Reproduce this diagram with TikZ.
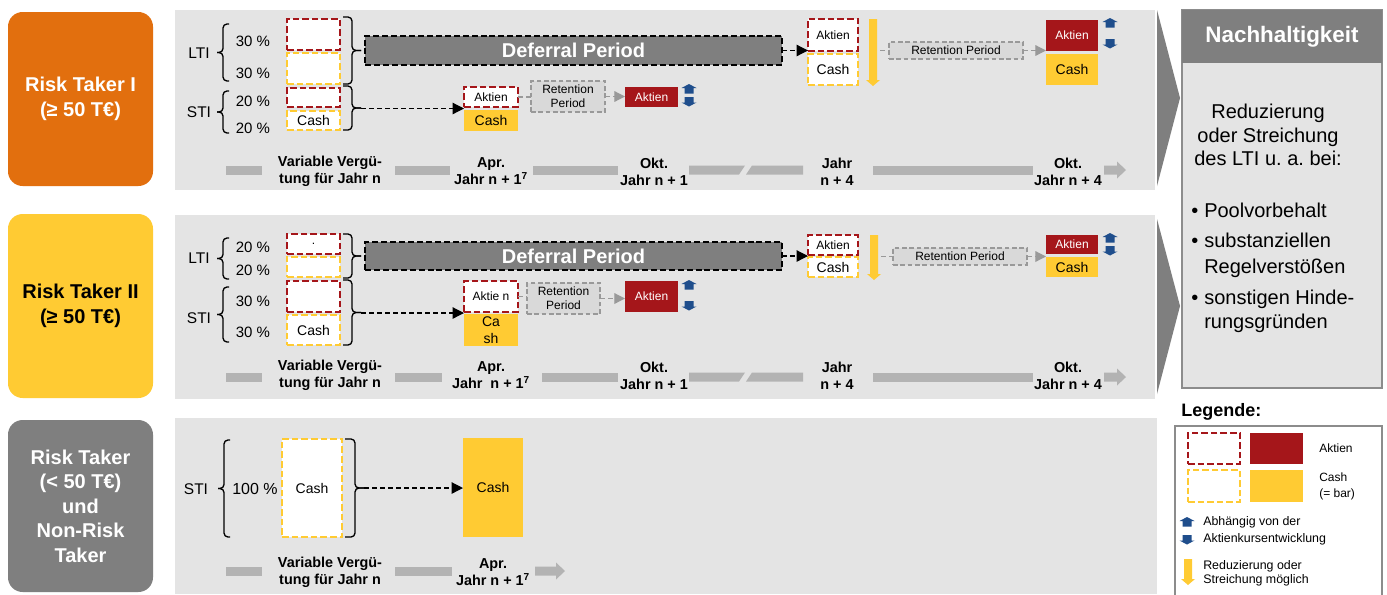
\documentclass[tikz,border=0pt]{standalone}
\usepackage{fontspec}
\setmainfont{Liberation Sans}
\usetikzlibrary{arrows.meta,calc}
\frenchspacing
\definecolor{rtorange}{HTML}{E26F0E}
\definecolor{rtyellow}{HTML}{FFCB33}
\definecolor{rtgray}{HTML}{7F7F7F}
\definecolor{panelbg}{HTML}{E4E4E4}
\definecolor{darkred}{HTML}{A5161A}
\definecolor{arrblue}{HTML}{1F4E8C}
\definecolor{tlgray}{HTML}{B3B3B3}
\definecolor{retfill}{HTML}{D9D9D9}
\definecolor{retline}{HTML}{999999}
\definecolor{boxline}{HTML}{8C8C8C}

\newcommand\pbox[7]{\node[#6, minimum width={(#4-#2)*0.75pt}, minimum height={(#5-#3)*0.75pt}] (#1) at ({(#2+#4)/2},{(#3+#5)/2}) {#7};}
\newcommand\fsz[2]{\fontsize{#1}{#2}\selectfont}
% brace: xr xm xl y1 y2
\newcommand\lbrc[5]{%
 \draw[brc] ({#1},{#4}) -- ({#2},{#4}) -- ({#2},{(#4+#5)/2}) -- ({#3},{(#4+#5)/2});
 \draw[brc] ({#3},{(#4+#5)/2}) -- ({#2},{(#4+#5)/2}) -- ({#2},{#5}) -- ({#1},{#5});}
\newcommand\bluup[2]{\fill[arrblue] ({#1},{#2}) -- ({#1+7.5},{#2+4}) -- ({#1+4.5},{#2+4}) -- ({#1+4.5},{#2+9.5}) -- ({#1-4.5},{#2+9.5}) -- ({#1-4.5},{#2+4}) -- ({#1-7.5},{#2+4}) -- cycle;}
\newcommand\bludn[2]{\fill[arrblue] ({#1-4.5},{#2}) -- ({#1+4.5},{#2}) -- ({#1+4.5},{#2+5.5}) -- ({#1+7.5},{#2+5.5}) -- ({#1},{#2+9.5}) -- ({#1-7.5},{#2+5.5}) -- ({#1-4.5},{#2+5.5}) -- cycle;}
\newcommand\yeldn[3]{\fill[rtyellow] ({#1-4},{#2}) -- ({#1+4},{#2}) -- ({#1+4},{#3-6}) -- ({#1+7},{#3-6}) -- ({#1},{#3}) -- ({#1-7},{#3-6}) -- ({#1-4},{#3-6}) -- cycle;}
\newcommand\tlbar[3]{\fill[tlgray] ({#1},{#3-4.5}) rectangle ({#2},{#3+4.5});}
\newcommand\tlarrow[3]{\fill[tlgray] ({#1},{#3-4.5}) -- ({#2-9},{#3-4.5}) -- ({#2-9},{#3-8.5}) -- ({#2},{#3}) -- ({#2-9},{#3+8.5}) -- ({#2-9},{#3+4.5}) -- ({#1},{#3+4.5}) -- cycle;}
\newcommand\tlbroken[1]{%
 \fill[tlgray] (689,{#1-4.5}) -- (745,{#1-4.5}) -- (739,{#1+4.5}) -- (689,{#1+4.5}) -- cycle;
 \fill[tlgray] (752,{#1-4.5}) -- (803,{#1-4.5}) -- (803,{#1+4.5}) -- (746,{#1+4.5}) -- cycle;}

\tikzset{
  bx/.style={inner sep=0pt, outer sep=0pt, align=center},
  rtlab/.style={bx, rounded corners=11pt, font=\fsz{15}{18.75}\bfseries},
  reddash/.style={bx, fill=white, draw=darkred, line width=1.75pt, dash pattern=on 5pt off 2.2pt},
  yeldash/.style={bx, fill=white, draw=rtyellow, line width=1.75pt, dash pattern=on 5pt off 2.2pt},
  redsolid/.style={bx, fill=darkred, text=white, font=\fsz{9}{11}},
  yelsolid/.style={bx, fill=rtyellow, font=\fsz{10.5}{12.75}},
  defbox/.style={bx, fill=rtgray, draw=black, line width=1.1pt, dash pattern=on 4.5pt off 2.2pt, text=white, font=\fsz{15}{18}\bfseries},
  retbox/.style={bx, fill=retfill, draw=retline, line width=0.9pt, dash pattern=on 3.5pt off 2pt, font=\fsz{9}{10.5}},
  fsmall/.style={font=\fsz{9}{11}},
  cashf/.style={font=\fsz{10.5}{12.75}},
  pct/.style={bx, font=\fsz{11.25}{13}},
  tltext/.style={bx, font=\fsz{10.8}{12.75}\bfseries},
  blkarr/.style={black, line width=0.9pt, dash pattern=on 3.75pt off 2.25pt, -{Triangle[length=8.5pt,width=8.5pt]}},
  grayln/.style={retline, line width=0.9pt, dash pattern=on 3.5pt off 2.5pt},
  grayarr/.style={grayln, -{Triangle[length=8pt,width=8pt]}},
  brc/.style={black, line width=1pt, rounded corners=3pt},
}

\begin{document}
\begin{tikzpicture}[x=0.75pt,y=-0.75pt]
\useasboundingbox (0,0) rectangle (1387,594);
\fill[white] (0,0) rectangle (1387,594);

% ---------- left labels
\pbox{rt1}{8}{12}{153}{186}{rtlab, fill=rtorange, text=white}{Risk Taker I\\(≥ 50 T€)}
\pbox{rt2}{8}{214}{153}{398}{rtlab, fill=rtyellow, text=black}{Risk Taker II\\(≥ 50 T€)}
\pbox{rt3}{8}{420}{153}{592}{rtlab, fill=rtgray, text=white, font=\fsz{15}{18.4}\bfseries}{Risk Taker\\(< 50 T€)\\und\\Non-Risk\\Taker}

% ---------- panels
\pbox{pan1}{175}{10}{1155}{190}{bx, fill=panelbg}{}
\pbox{pan2}{175}{215}{1155}{399}{bx, fill=panelbg}{}
\pbox{pan3}{175}{418}{1157}{594}{bx, fill=panelbg}{}

% chevrons
\fill[rtgray] (1157,10) -- (1180,98) -- (1157,186) -- cycle;
\fill[rtgray] (1157,219) -- (1180,306) -- (1157,394) -- cycle;

% ---------- Nachhaltigkeit
\pbox{nach}{1182}{10}{1382}{388}{bx, fill=panelbg, draw=boxline, line width=0.8pt}{}
\pbox{nachh}{1182}{10}{1382}{63}{bx, fill=rtgray, text=white, font=\fsz{16.8}{20}\bfseries}{Nachhaltigkeit}
\begin{scope}[every node/.style={inner sep=0pt, font=\fsz{15}{18}}]
\node[anchor=base] (n1) at (1268,118) {Reduzierung};
\node[anchor=base] (n2) at (1268,142) {oder Streichung};
\node[anchor=base] (n3) at (1268,165) {des LTI u. a. bei:};
\node[anchor=base west] (b1) at (1191,217) {•};
\node[anchor=base west] (n4) at (1204,217) {Poolvorbehalt};
\node[anchor=base west] (b2) at (1191,247) {•};
\node[anchor=base west] (n5) at (1204,247) {substanziellen};
\node[anchor=base west] (n6) at (1204,273) {Regelverstößen};
\node[anchor=base west] (b3) at (1191,304) {•};
\node[anchor=base west] (n7) at (1204,304) {sonstigen Hinde-};
\node[anchor=base west] (n8) at (1204,328) {rungsgründen};
\end{scope}

% ---------- Legend
\node[anchor=base west, inner sep=0pt, font=\fsz{13.5}{16}\bfseries] (leg) at (1181,416) {Legende:};
\pbox{legbox}{1175}{426}{1382}{600}{bx, fill=white, draw=boxline, line width=0.8pt}{}
\pbox{lg1}{1188}{433}{1240}{464}{reddash}{}
\pbox{lg2}{1250}{433}{1303}{464}{bx, fill=darkred}{}
\pbox{lg3}{1188}{470}{1240}{502}{yeldash}{}
\pbox{lg4}{1250}{470}{1303}{502}{bx, fill=rtyellow}{}
\node[anchor=west, inner sep=0pt, fsmall] (lgt1) at (1319,448) {Aktien};
\node[anchor=west, inner sep=0pt, align=left, font=\fsz{9}{12}] (lgt2) at (1319,486) {Cash\\(= bar)};
\bluup{1187}{517}
\bludn{1187}{535}
\node[anchor=west, inner sep=0pt, align=left, font=\fsz{9.3}{12.75}] (lgt3) at (1203,531) {Abhängig von der\\Aktienkursentwicklung};
\yeldn{1188}{559}{585}
\node[anchor=west, inner sep=0pt, align=left, font=\fsz{9.3}{10.5}] (lgt4) at (1203,573) {Reduzierung oder\\Streichung möglich};

% ================= PANEL 1
\node[pct, font=\fsz{11.6}{13}] (p1lti) at (199,53) {LTI};
\node[pct, font=\fsz{11.6}{13}] (p1sti) at (199,112) {STI};
\lbrc{229}{223}{217}{24}{81}
\lbrc{229}{223}{217}{91}{133}
\node[pct] (p1p1) at (253,41) {30 \%};
\node[pct] (p1p2) at (253,73) {30 \%};
\node[pct] (p1p3) at (253,101) {20 \%};
\node[pct] (p1p4) at (253,128) {20 \%};
\pbox{p1l1}{287}{19}{340}{50}{reddash}{}
\pbox{p1l2}{287}{53}{340}{84}{yeldash}{}
\pbox{p1s1}{287}{88}{340}{107}{reddash}{}
\pbox{p1s2}{287}{111}{340}{130}{yeldash, cashf}{Cash}
\lbrc{343}{352}{361}{17}{84}
\lbrc{343}{352}{361}{86}{130}
\coordinate (p1lt) at (361,50.5);
\coordinate (p1st) at (361,108.5);
\pbox{p1def}{365}{36}{782}{65}{defbox}{Deferral Period}
\pbox{p1aa}{464}{87}{518}{107}{reddash, fsmall}{Aktien}
\pbox{p1ac}{464}{110}{518}{131}{yelsolid}{Cash}
\pbox{p1ret}{531}{81}{605}{112}{retbox}{Retention\\Period}
\pbox{p1oa}{625}{87}{678}{107}{redsolid}{Aktien}
\bluup{689}{84}
\bludn{689}{97}
\pbox{p1ja}{808}{19}{858}{51}{reddash, fsmall}{Aktien}
\pbox{p1jc}{808}{54}{858}{85}{yeldash, cashf}{Cash}
\yeldn{873}{19}{86}
\coordinate (p1y) at (880,50.5);
\pbox{p1ret2}{889}{42}{1023}{59}{retbox}{Retention Period}
\pbox{p1fa}{1046}{20}{1098}{51}{redsolid}{Aktien}
\pbox{p1fc}{1046}{54}{1098}{85}{yelsolid}{Cash}
\bluup{1110}{18}
\bludn{1110}{39}
\draw[blkarr] (p1def.east) -- (p1def.east -| p1ja.west);
\draw[blkarr] (p1st) -- (p1st -| p1aa.west);
\draw[grayln] (p1aa.east) -- (p1aa.east -| p1ret.west);
\draw[grayarr] (p1ret.east) -- (p1ret.east -| p1oa.west);
\draw[grayln] (p1y) -- (p1y -| p1ret2.west);
\draw[grayarr] (p1ret2.east) -- (p1ret2.east -| p1fa.west);
% timeline 1
\tlbar{226}{262}{170}
\tlbar{395}{450}{170}
\tlbar{533}{618}{170}
\tlbroken{170}
\tlbar{873}{1033}{170}
\tlarrow{1104}{1126}{170}
\node[tltext] (p1t1) at (330,171.5) {Variable Vergü-\\tung für Jahr n};
\node[tltext] (p1t2) at (491,171.5) {Apr.\\Jahr n + 1\textsuperscript{7}};
\node[tltext] (p1t3) at (654,171.5) {Okt.\\Jahr n + 1};
\node[tltext] (p1t4) at (837,171.5) {Jahr\\n + 4};
\node[tltext] (p1t5) at (1068,171.5) {Okt.\\Jahr n + 4};

% ================= PANEL 2
\node[pct, font=\fsz{11.6}{13}] (p2lti) at (199,258) {LTI};
\node[pct, font=\fsz{11.6}{13}] (p2sti) at (199,318) {STI};
\lbrc{229}{223}{217}{238}{279}
\lbrc{229}{223}{217}{287}{342}
\node[pct] (p2p1) at (253,247) {20 \%};
\node[pct] (p2p2) at (253,270) {20 \%};
\node[pct] (p2p3) at (253,301) {30 \%};
\node[pct] (p2p4) at (253,332) {30 \%};
\pbox{p2l1}{287}{234}{340}{254}{reddash, fsmall}{.}
\pbox{p2l2}{287}{257}{340}{277}{yeldash}{}
\pbox{p2s1}{287}{281}{340}{312}{reddash}{}
\pbox{p2s2}{287}{315}{340}{345}{yeldash, cashf}{Cash}
\lbrc{343}{352}{361}{234}{278}
\lbrc{343}{352}{361}{280}{345}
\coordinate (p2st) at (361,313);
\pbox{p2def}{365}{242}{782}{270}{defbox}{Deferral Period}
\pbox{p2aa}{464}{281}{518}{312}{reddash, fsmall}{Aktie n}
\pbox{p2ac}{464}{314}{518}{346}{yelsolid, font=\fsz{10.5}{12.75}}{Ca\\sh}
\pbox{p2ret}{527}{283}{600}{314}{retbox}{Retention\\Period}
\pbox{p2oa}{625}{281}{678}{312}{redsolid}{Aktien}
\bluup{689}{280}
\bludn{689}{301}
\pbox{p2ja}{808}{235}{858}{255}{reddash, fsmall}{Aktien}
\pbox{p2jc}{808}{257}{858}{277}{yeldash, cashf}{Cash}
\yeldn{874}{235}{280}
\coordinate (p2y) at (881,256.5);
\pbox{p2ret2}{893}{248}{1027}{265}{retbox}{Retention Period}
\pbox{p2fa}{1046}{235}{1098}{254}{redsolid}{Aktien}
\pbox{p2fc}{1046}{257}{1098}{277}{yelsolid}{Cash}
\bluup{1110}{233}
\bludn{1110}{246}
\draw[blkarr] (p2def.east) -- (p2def.east -| p2ja.west);
\draw[blkarr] (p2st) -- (p2st -| p2aa.west);
\draw[grayln] (p2aa.east) -- (p2aa.east -| p2ret.west);
\draw[grayarr] (p2ret.east) -- (p2ret.east -| p2oa.west);
\draw[grayln] (p2y) -- (p2y -| p2ret2.west);
\draw[grayarr] (p2ret2.east) -- (p2ret2.east -| p2fa.west);
% timeline 2
\tlbar{226}{262}{377}
\tlbar{395}{442}{377}
\tlbar{542}{618}{377}
\tlbroken{377}
\tlbar{873}{1033}{377}
\tlarrow{1104}{1126}{377}
\node[tltext] (p2t1) at (330,375.5) {Variable Vergü-\\tung für Jahr n};
\node[tltext] (p2t2) at (491,375.5) {Apr.\\Jahr~ n + 1\textsuperscript{7}};
\node[tltext] (p2t3) at (654,375.5) {Okt.\\Jahr n + 1};
\node[tltext] (p2t4) at (837,375.5) {Jahr\\n + 4};
\node[tltext] (p2t5) at (1068,375.5) {Okt.\\Jahr n + 4};

% ================= PANEL 3
\node[pct, font=\fsz{11.6}{13}] (p3sti) at (196,489) {STI};
\lbrc{230}{224}{218}{440}{537}
\node[pct, font=\fsz{12}{14}] (p3p) at (255,489) {100 \%};
\pbox{p3s}{282}{439}{342}{537}{yeldash, cashf}{Cash}
\lbrc{345}{355}{364}{439}{537}
\coordinate (p3bt) at (364,488);
\pbox{p3c}{463}{438}{523}{537}{yelsolid}{Cash}
\draw[blkarr] (p3bt) -- (p3bt -| p3c.west);
\tlbar{226}{262}{571}
\tlbar{395}{452}{571}
\tlarrow{535}{565}{571}
\node[tltext] (p3t1) at (330,572.5) {Variable Vergü-\\tung für Jahr n};
\node[tltext] (p3t2) at (493,572.5) {Apr.\\Jahr n + 1\textsuperscript{7}};
\end{tikzpicture}
\end{document}
